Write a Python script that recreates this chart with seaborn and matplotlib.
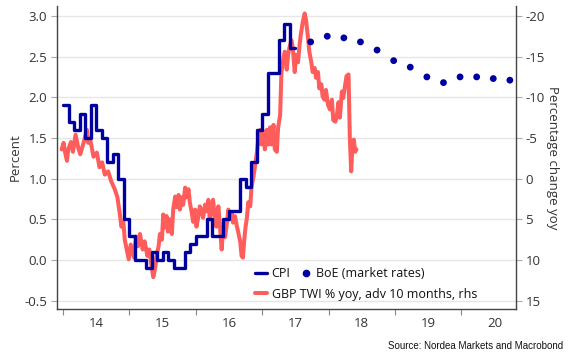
import numpy as np
import pandas as pd
import matplotlib
matplotlib.use("Agg")
import matplotlib.pyplot as plt
from matplotlib.lines import Line2D
from matplotlib.ticker import FixedLocator, NullFormatter, FixedFormatter
import seaborn as sns

sns.set_theme(style="white")
plt.rcParams["font.family"] = ["Open Sans", "DejaVu Sans"]

# %% Data
# UK CPI, % y/y, monthly Jan 2014 - Jun 2017
cpi = [1.9, 1.7, 1.6, 1.8, 1.5, 1.9, 1.6, 1.5, 1.2, 1.3, 1.0, 0.5,
       0.3, 0.0, 0.0, -0.1, 0.1, 0.0, 0.1, 0.0, -0.1, -0.1, 0.1, 0.2,
       0.3, 0.3, 0.5, 0.3, 0.3, 0.5, 0.6, 0.6, 1.0, 0.9, 1.2, 1.6,
       1.8, 2.3, 2.3, 2.7, 2.9, 2.6]
cpi_start = "2014-01-01"

# BoE projection (market rates), quarterly
boe_year = [2017.73, 2017.98, 2018.23, 2018.48, 2018.73, 2018.98, 2019.23,
            2019.48, 2019.73, 2019.98, 2020.23, 2020.48, 2020.73]
boe = [2.68, 2.75, 2.73, 2.68, 2.58, 2.45, 2.37, 2.25, 2.18, 2.25, 2.25, 2.23, 2.21]

# GBP TWI % y/y, advanced 10 months (rhs, inverted)
twi_year = [2013.98, 2014.01, 2014.03, 2014.06, 2014.08, 2014.12, 2014.15, 2014.19,
            2014.23, 2014.26, 2014.31, 2014.36, 2014.38, 2014.41, 2014.46, 2014.51,
            2014.55, 2014.59, 2014.63, 2014.68, 2014.73, 2014.78, 2014.82, 2014.86,
            2014.88, 2014.91, 2014.93, 2014.96, 2014.99, 2015.02, 2015.07, 2015.10,
            2015.13, 2015.16, 2015.20, 2015.23, 2015.27, 2015.30, 2015.34, 2015.36,
            2015.39, 2015.41, 2015.44, 2015.46, 2015.49, 2015.51, 2015.53, 2015.56,
            2015.58, 2015.61, 2015.64, 2015.66, 2015.69, 2015.71, 2015.74, 2015.76,
            2015.79, 2015.81, 2015.84, 2015.86, 2015.89, 2015.91, 2015.94, 2015.96,
            2015.99, 2016.01, 2016.04, 2016.06, 2016.09, 2016.11, 2016.14, 2016.16,
            2016.19, 2016.21, 2016.24, 2016.26, 2016.29, 2016.31, 2016.34, 2016.36,
            2016.39, 2016.41, 2016.44, 2016.47, 2016.49, 2016.51, 2016.54, 2016.56,
            2016.59, 2016.62, 2016.64, 2016.67, 2016.69, 2016.71, 2016.73, 2016.75,
            2016.77, 2016.79, 2016.82, 2016.84, 2016.87, 2016.89, 2016.92, 2016.94,
            2016.97, 2016.99, 2017.02, 2017.04, 2017.07, 2017.09, 2017.12, 2017.14,
            2017.17, 2017.19, 2017.22, 2017.24, 2017.27, 2017.29, 2017.32, 2017.34,
            2017.37, 2017.39, 2017.41, 2017.44, 2017.46, 2017.49, 2017.51, 2017.54,
            2017.56, 2017.58, 2017.61, 2017.64, 2017.66, 2017.69, 2017.71, 2017.74,
            2017.76, 2017.79, 2017.81, 2017.84, 2017.86, 2017.89, 2017.91, 2017.94,
            2017.96, 2017.99, 2018.02, 2018.05, 2018.07, 2018.10, 2018.12, 2018.15,
            2018.17, 2018.20, 2018.22, 2018.25, 2018.27, 2018.30, 2018.32, 2018.34,
            2018.36, 2018.38, 2018.40, 2018.42]
twi = [-3.6, -4.4, -3.3, -2.2, -3.6, -4.5, -3.3, -5.4,
       -3.8, -3.0, -4.4, -6.0, -4.4, -4.8, -2.7, -3.2,
       -1.4, -2.0, -0.5, -0.9, 0.4, 1.3, 2.3, 4.6,
       5.9, 5.3, 7.5, 8.7, 9.9, 8.1, 9.7, 7.1,
       8.3, 6.8, 8.7, 7.7, 9.5, 8.7, 11.1, 12.1,
       10.9, 9.5, 8.3, 6.8, 7.5, 4.4, 6.0, 4.6,
       6.5, 5.0, 6.8, 3.8, 2.2, 3.5, 2.0, 3.8,
       2.3, 3.2, 1.1, 2.3, 1.3, 2.9, 4.2, 5.3,
       3.8, 5.9, 4.6, 3.4, 4.0, 4.8, 3.2, 4.0,
       2.6, 5.0, 3.8, 2.6, 5.0, 5.9, 3.4, 5.4,
       8.7, 6.2, 7.2, 5.4, 3.8, 5.0, 4.2, 5.4,
       4.6, 5.9, 6.6, 7.8, 9.5, 9.7, 7.5, 5.9,
       4.8, 2.9, 3.4, 1.0, -0.3, -1.5, -3.2, -4.8,
       -6.0, -4.2, -5.8, -3.6, -6.0, -4.2, -6.3, -4.2,
       -6.6, -3.6, -3.3, -6.3, -7.8, -13.1, -14.8, -15.6,
       -13.4, -15.2, -16.1, -17.0, -16.1, -13.1, -15.2, -14.3,
       -16.2, -17.6, -19.2, -20.3, -19.5, -17.3, -15.6, -14.3,
       -13.1, -13.6, -12.4, -13.1, -11.1, -11.6, -10.1, -9.7,
       -10.9, -9.1, -8.5, -9.7, -7.2, -7.0, -7.5, -9.4,
       -7.5, -10.7, -9.9, -11.5, -12.6, -12.8, -5.0, -0.9,
       -4.2, -4.8, -3.3, -3.6]

year_labels = ["14", "15", "16", "17", "18", "19", "20"]
left_ticks = [-0.5, 0.0, 0.5, 1.0, 1.5, 2.0, 2.5, 3.0]
right_ticks = [-20, -15, -10, -5, 0, 5, 10, 15]

BLUE = "#0000A0"
RED = "#FF5C5C"
GREY = "#333333"

# %% Frames
dates = pd.date_range(cpi_start, periods=len(cpi), freq="MS")
cpi_x = list(dates.year + (dates.month - 1) / 12)
cpi_df = pd.DataFrame({"year": cpi_x + [cpi_x[-1] + 1 / 12], "cpi": cpi + [cpi[-1]]})
boe_df = pd.DataFrame({"year": boe_year, "boe": boe})
twi_df = pd.DataFrame({"year": twi_year, "twi": twi})

# %% Plot
fig = plt.figure(figsize=(5.7, 3.6), dpi=100)
ax = fig.add_axes([0.1, 0.142, 0.805, 0.841])
ax2 = ax.twinx()
ax.set_zorder(ax2.get_zorder() + 1)
ax.patch.set_visible(False)

sns.lineplot(data=twi_df, x="year", y="twi", ax=ax2, color=RED, lw=2.9,
             sort=False, errorbar=None, legend=False)
sns.lineplot(data=cpi_df, x="year", y="cpi", ax=ax, color=BLUE, lw=2.4,
             drawstyle="steps-post", sort=False, errorbar=None, legend=False)
sns.scatterplot(data=boe_df, x="year", y="boe", ax=ax, color=BLUE, s=24,
                edgecolor="none", legend=False)

ax.set_xlim(2013.91, 2020.82)
ax.set_ylim(-0.6, 3.12)
ax2.set_ylim(16, -21.2)

ax.set_yticks(left_ticks)
ax.set_yticklabels([f"{v:.1f}" for v in left_ticks])
ax2.set_yticks(right_ticks)
ax2.set_yticklabels([str(v) for v in right_ticks])
ax2.yaxis.grid(True, color="#e6e6e6", lw=1)
ax2.set_axisbelow(True)

years = [2014 + i for i in range(len(year_labels))]
ax.xaxis.set_major_locator(FixedLocator(years))
ax.xaxis.set_major_formatter(NullFormatter())
ax.xaxis.set_minor_locator(FixedLocator([y + 0.5 for y in years]))
ax.xaxis.set_minor_formatter(FixedFormatter(year_labels))
ax.tick_params(axis="x", which="major", length=4, width=0.8, color="#888888", bottom=True)
ax.tick_params(axis="x", which="minor", length=0, labelsize=9.5, labelcolor=GREY, pad=6)
ax.tick_params(axis="y", length=4, width=0.8, color="#aaaaaa", labelsize=9.5,
               labelcolor=GREY, left=True, pad=3)
ax2.tick_params(axis="y", length=4, width=0.8, color="#aaaaaa", labelsize=9.5,
                labelcolor=GREY, right=True, pad=3)

ax.set_xlabel("")
ax.set_ylabel("Percent", fontsize=9.5, color=GREY)
ax.yaxis.set_label_coords(-0.077, 0.5)
ax2.set_ylabel("Percentage change yoy", fontsize=9.5, color=GREY, rotation=270)
ax2.yaxis.set_label_coords(1.093, 0.5)

for s in ["top", "right"]:
    ax.spines[s].set_visible(False)
for s in ["top", "left", "bottom"]:
    ax2.spines[s].set_visible(False)
for sp in [ax.spines["left"], ax.spines["bottom"], ax2.spines["right"]]:
    sp.set_color("#444444")
    sp.set_linewidth(1)

# legends
h_cpi = Line2D([], [], color=BLUE, lw=2.4)
h_boe = Line2D([], [], color=BLUE, lw=0, marker="o", markersize=4.5)
h_twi = Line2D([], [], color=RED, lw=2.9)
leg1 = ax.legend([h_cpi, h_boe], ["CPI", "BoE (market rates)"], ncol=2,
                 loc="center left", bbox_to_anchor=(0.447, 0.24),
                 bbox_transform=fig.transFigure, frameon=False, fontsize=9,
                 handlelength=1.0, handletextpad=0.35, columnspacing=0.7,
                 borderpad=0, borderaxespad=0, labelcolor="#111111")
ax.add_artist(leg1)
ax.legend([h_twi], ["GBP TWI % yoy, adv 10 months, rhs"], loc="center left",
          bbox_to_anchor=(0.447, 0.183), bbox_transform=fig.transFigure,
          frameon=False, fontsize=9, handlelength=1.0, handletextpad=0.35,
          borderpad=0, borderaxespad=0, labelcolor="#111111")

fig.text(0.988, 0.04, "Source: Nordea Markets and Macrobond", ha="right", va="center",
         fontsize=7, family=["Liberation Sans", "DejaVu Sans"], color="#111111")

fig.savefig("out.png", dpi=100)
